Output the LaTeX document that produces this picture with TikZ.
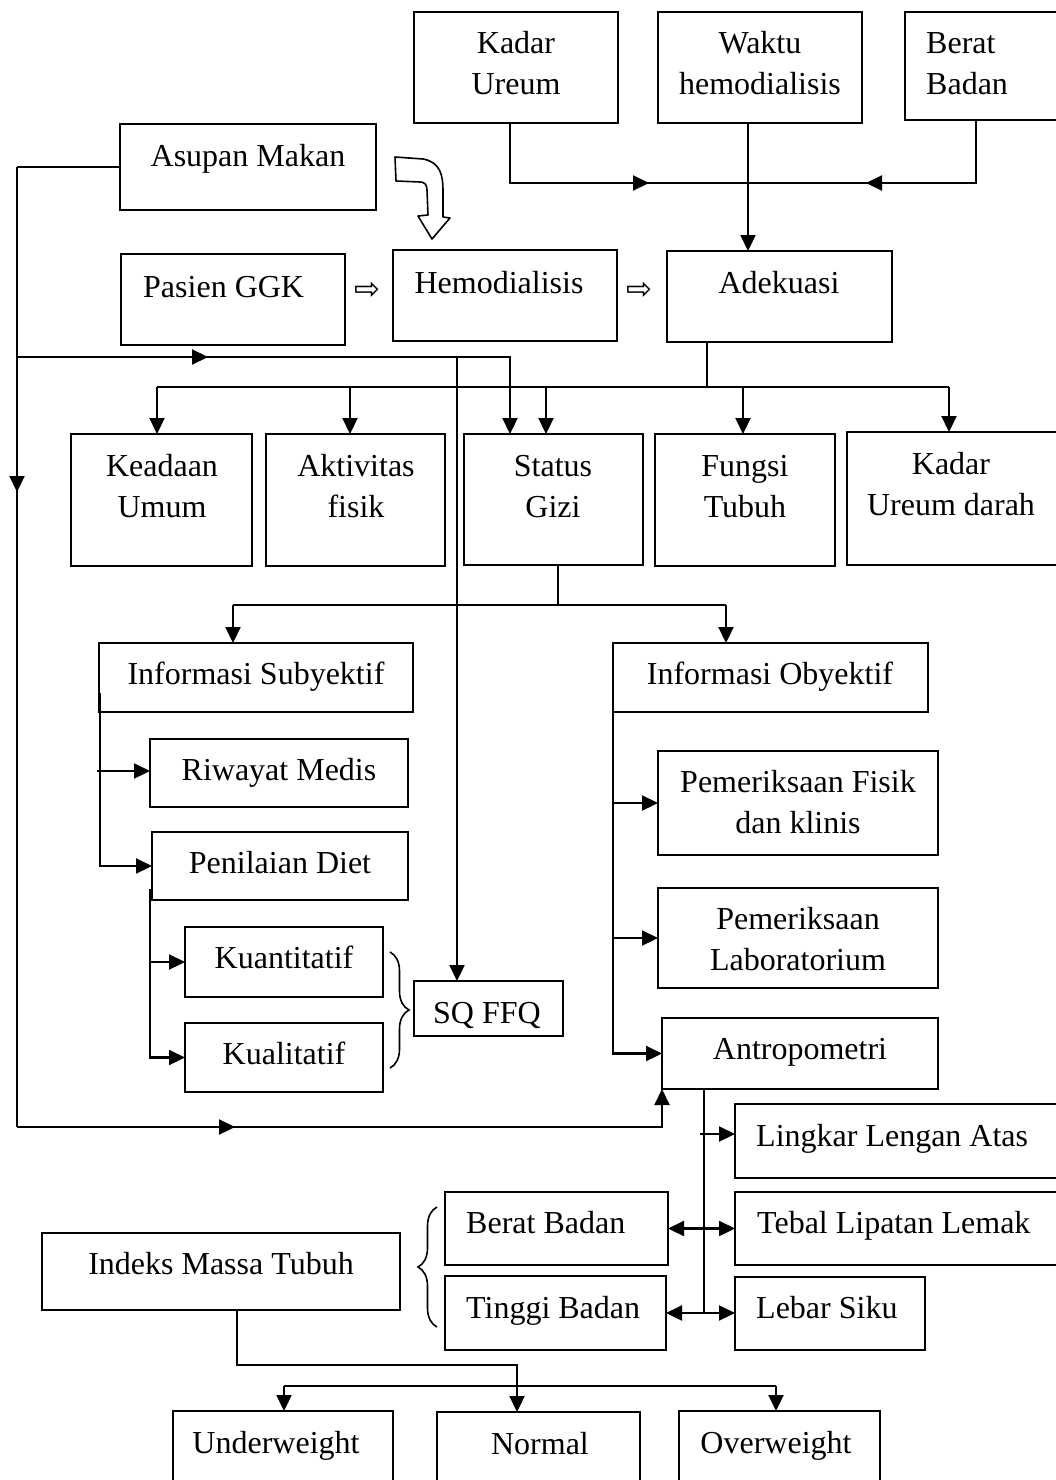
\documentclass[tikz,border=0pt]{standalone}
\usepackage{fontspec}
\setmainfont{Liberation Serif}
\newfontfamily\symfnt{DejaVu Sans}
\usetikzlibrary{arrows.meta,decorations.pathreplacing,decorations.markings}
\newcommand\mkbox[5]{\node[box,minimum width={(#4)-(#2)},minimum height={(#5)-(#3)}] (#1) at ({((#2)+(#4))/2},{((#3)+(#5))/2}) {};}
\tikzset{
  tri/.tip={Triangle[length=16pt,width=15pt]},
  box/.style={draw,line width=2.2pt,inner sep=0pt,outer sep=0pt},
  txt/.style={font=\fontsize{32}{41}\selectfont,inner sep=0pt,anchor=base,align=center},
  txtl/.style={txt,anchor=base west,align=left},
  harr/.style={font=\symfnt\fontsize{31}{31}\selectfont,inner sep=0pt},
  ln/.style={line width=2.2pt},
  arr/.style={ln,-tri},
  darr/.style={ln,tri-tri},
  midarr/.style={postaction={decorate},decoration={markings,mark=at position #1 with {\arrow{tri}}}},
  brc/.style={line width=1.6pt,decorate,decoration={brace,amplitude=19pt}},
}
\begin{document}
\begin{tikzpicture}[x=1pt,y=-1pt]
\useasboundingbox (0,0) rectangle (1055,1480);
% boxes
\mkbox{kadar}{414}{12}{618}{123}
\mkbox{waktu}{658}{12}{862}{123}
\mkbox{berat}{905}{12}{1064}{120}
\mkbox{asupan}{120}{124}{376}{210}
\mkbox{pasien}{121}{254}{345}{345}
\mkbox{hemo}{393}{250}{617}{341}
\mkbox{adek}{667}{251}{892}{342}
\mkbox{keadaan}{71}{434}{252}{566}
\mkbox{aktiv}{266}{434}{445}{566}
\mkbox{status}{464}{434}{643}{565}
\mkbox{fungsi}{655}{434}{835}{566}
\mkbox{kadarud}{847}{432}{1064}{565}
\mkbox{infsub}{99}{643}{413}{712}
\mkbox{infoby}{613}{643}{928}{712}
\mkbox{riwayat}{150}{739}{408}{807}
\mkbox{penilaian}{152}{832}{408}{900}
\mkbox{kuant}{185}{927}{383}{997}
\mkbox{kual}{185}{1023}{383}{1092}
\mkbox{sqffq}{414}{981}{563}{1036}
\mkbox{pfisik}{658}{751}{938}{855}
\mkbox{plab}{658}{888}{938}{988}
\mkbox{antro}{662}{1018}{938}{1089}
\mkbox{lingkar}{735}{1104}{1064}{1178}
\mkbox{tebal}{735}{1192}{1064}{1265}
\mkbox{lebar}{735}{1277}{925}{1350}
\mkbox{bb}{445}{1192}{668}{1265}
\mkbox{tb}{445}{1276}{666}{1350}
\mkbox{imt}{42}{1233}{400}{1310}
\mkbox{under}{173}{1411}{393}{1492}
\mkbox{normal}{437}{1412}{640}{1492}
\mkbox{over}{679}{1411}{880}{1492}
% texts (multi-line nodes: base = last line)
\node[txt] (kadar-t) at (516,95) {Kadar\\Ureum};
\node[txt] (waktu-t) at (760,95) {Waktu\\hemodialisis};
\node[txtl] (berat-t) at (926,95) {Berat\\Badan};
\node[txt] (asupan-t) at (248,166) {Asupan Makan};
\node[txtl] (pasien-t) at (143,297) {Pasien GGK};
\node[txt] (hemo-t) at (499,293) {Hemodialisis};
\node[txt] (adek-t) at (779,293) {Adekuasi};
\node[txt] (keadaan-t) at (162,517) {Keadaan\\Umum};
\node[txt] (aktiv-t) at (356,517) {Aktivitas\\fisik};
\node[txt] (status-t) at (553,517) {Status\\Gizi};
\node[txt] (fungsi-t) at (745,517) {Fungsi\\Tubuh};
\node[txt] (kadarud-t) at (951,515) {Kadar\\Ureum darah};
\node[txt] (infsub-t) at (256,684) {Informasi Subyektif};
\node[txt] (infoby-t) at (770,684) {Informasi Obyektif};
\node[txt] (riwayat-t) at (279,780) {Riwayat Medis};
\node[txt] (penilaian-t) at (280,873) {Penilaian Diet};
\node[txt] (kuant-t) at (284,968) {Kuantitatif};
\node[txt] (kual-t) at (284,1064) {Kualitatif};
\node[txt] (sqffq-t) at (487,1023) {SQ FFQ};
\node[txt] (pfisik-t) at (798,833) {Pemeriksaan Fisik\\dan klinis};
\node[txt] (plab-t) at (798,970) {Pemeriksaan\\Laboratorium};
\node[txt] (antro-t) at (800,1059) {Antropometri};
\node[txtl] (lingkar-t) at (756,1146) {Lingkar Lengan Atas};
\node[txtl] (tebal-t) at (757,1233) {Tebal Lipatan Lemak};
\node[txtl] (lebar-t) at (756,1318) {Lebar Siku};
\node[txtl] (bb-t) at (466,1233) {Berat Badan};
\node[txtl] (tb-t) at (466,1318) {Tinggi Badan};
\node[txt] (imt-t) at (221,1274) {Indeks Massa Tubuh};
\node[txt] (under-t) at (276,1453) {Underweight};
\node[txt] (normal-t) at (540,1454) {Normal};
\node[txt] (over-t) at (776,1453) {Overweight};
% hollow arrows
\node[harr] (h1) at (367,291) {⇨};
\node[harr] (h2) at (639,291) {⇨};
% curved hollow arrow
\draw[line width=1.6pt,line join=round,fill=white] (395,157) -- (423,159) .. controls (440,162) and (443,175) .. (443,190) -- (443,217) -- (450,218) -- (432,239) -- (418,216) -- (428,215) -- (427,190) .. controls (427,184) and (424,182) .. (420,182) -- (396,181) -- cycle;
% top connectors
\coordinate (kj) at (510,183);
\coordinate (bj) at (976,183);
\coordinate (ka) at (649,183);
\coordinate (ba) at (866,183);
\draw[ln] (kadar.south -| kj) -- (kj) -- (bj) -- (berat.south -| bj);
\draw[arr] (kj) -- (ka);
\draw[arr] (bj) -- (ba);
\coordinate (wx) at (748,0);
\draw[arr] (waktu.south -| wx) -- (adek.north -| wx);
% adekuasi bus
\coordinate (ad) at (707,387);
\coordinate (b1) at (157,387);
\coordinate (b2) at (350,387);
\coordinate (b3) at (546,387);
\coordinate (b4) at (743,387);
\coordinate (b5) at (949,387);
\draw[ln] (adek.south -| ad) -- (ad);
\draw[ln] (b1) -- (b5);
\draw[arr] (b1) -- (keadaan.north -| b1);
\draw[arr] (b2) -- (aktiv.north -| b2);
\draw[arr] (b3) -- (status.north -| b3);
\draw[arr] (b4) -- (fungsi.north -| b4);
\draw[arr] (b5) -- (kadarud.north -| b5);
% left loop
\coordinate (L1) at (17,167);
\coordinate (L2) at (17,1127);
\coordinate (L3) at (17,357);
\coordinate (Lr) at (510,357);
\coordinate (Lq) at (457,357);
\draw[ln] (asupan.west) -- (L1);
\draw[ln,midarr=325pt] (L1) -- (L2);
\draw[arr,midarr=218pt] (L2) -- (L2 -| antro.south west) -- (antro.south west);
\draw[arr,midarr=191pt] (L3) -- (Lr) -- (status.north -| Lr);
\draw[arr] (Lq) -- (sqffq.north -| Lq);
% status gizi split
\coordinate (sg) at (558,605);
\coordinate (s1) at (233,605);
\coordinate (s2) at (726,605);
\draw[ln] (status.south -| sg) -- (sg);
\draw[ln] (s1) -- (s2);
\draw[arr] (s1) -- (infsub.north -| s1);
\draw[arr] (s2) -- (infoby.north -| s2);
% subyektif tree
\coordinate (v1) at (100,693);
\coordinate (v1r) at (97,771);
\draw[arr] (v1) -- (v1 |- penilaian.west) -- (penilaian.west);
\draw[arr] (v1r) -- (v1r -| riwayat.west);
\coordinate (v2) at (150,889);
\draw[arr] (v2) -- (v2 |- kual.west) -- (kual.west);
\draw[arr] (v2 |- kuant.west) -- (kuant.west);
% braces
\coordinate (br1a) at (390,952);
\coordinate (br1b) at (390,1068);
\draw[brc] (br1a) -- (br1b);
\coordinate (br2a) at (437,1327);
\coordinate (br2b) at (437,1207);
\draw[brc] (br2a) -- (br2b);
% obyektif tree
\draw[arr] (infoby.south west) -- (infoby.south west |- antro.west) -- (antro.west);
\draw[arr] (infoby.south west |- pfisik.west) -- (pfisik.west);
\draw[arr] (infoby.south west |- plab.west) -- (plab.west);
% antropometri tree
\coordinate (v4) at (704,1089);
\draw[ln] (antro.south -| v4) -- (v4 |- tb.east);
\coordinate (la) at (700,1134);
\draw[arr] (la) -- (la -| lingkar.west);
\draw[darr] (bb.east) -- (bb.east -| tebal.west);
\draw[darr] (tb.east) -- (tb.east -| lebar.west);
% IMT tree
\coordinate (i1) at (237,1365);
\coordinate (i2) at (517,1365);
\coordinate (u1) at (284,1386);
\coordinate (u2) at (776,1386);
\draw[arr] (imt.south -| i1) -- (i1) -- (i2) -- (normal.north -| i2);
\draw[ln] (u1) -- (u2);
\draw[arr] (u1) -- (under.north -| u1);
\draw[arr] (u2) -- (over.north -| u2);
\end{tikzpicture}
\end{document}
